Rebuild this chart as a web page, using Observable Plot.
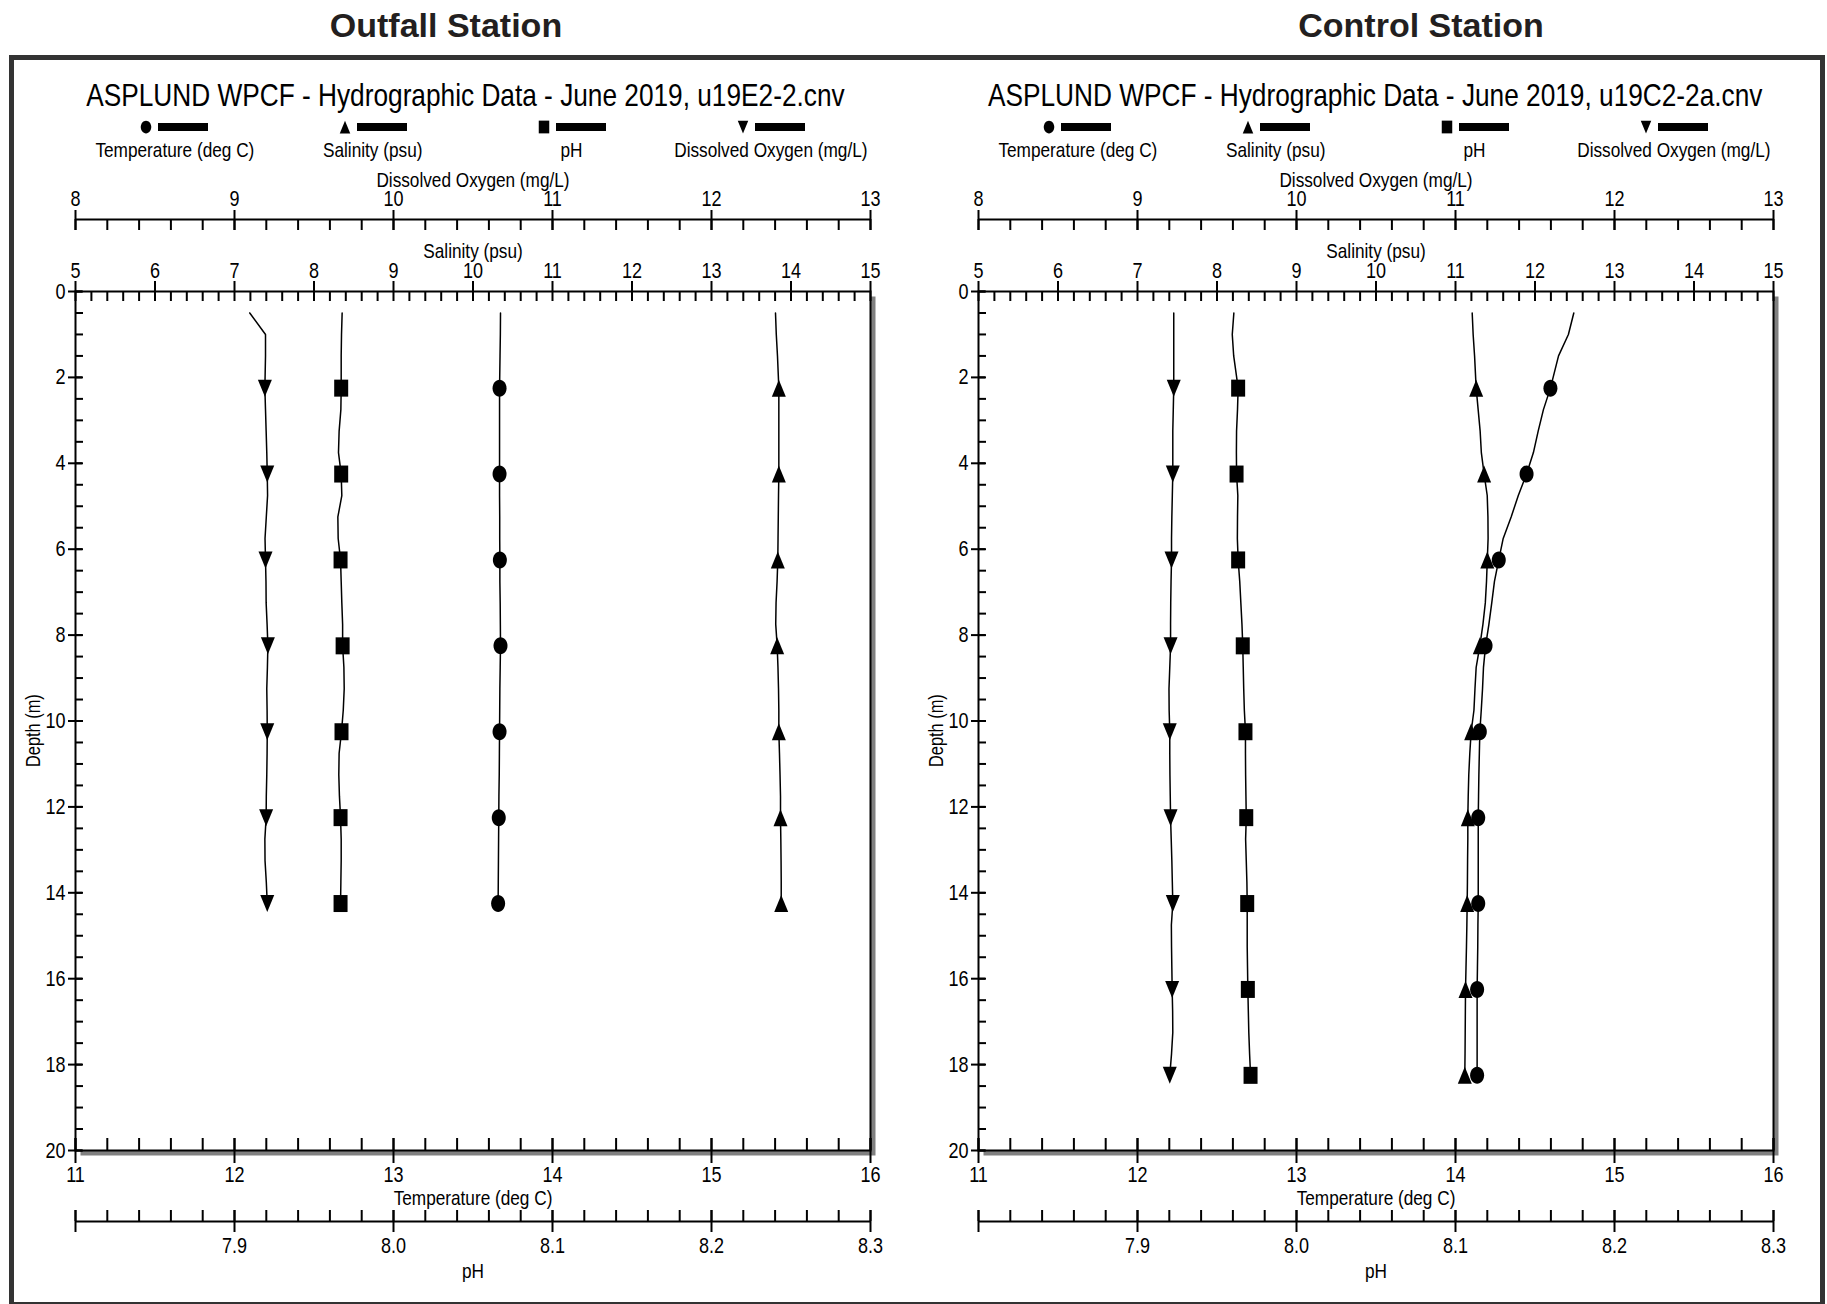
<!DOCTYPE html>
<html>
<head>
<meta charset="utf-8">
<script src="https://cdn.jsdelivr.net/npm/d3@7"></script>
<script src="https://cdn.jsdelivr.net/npm/@observablehq/plot@0.6"></script>
<style>
html, body { margin: 0; padding: 0; background: #fff; }
#page { position: relative; width: 1827px; height: 1304px; overflow: hidden; background: #fff;
  font-family: "Liberation Sans", Arial, sans-serif; color: #000; }
.station { position: absolute; top: 2px; width: 500px; text-align: center; font-family: "Liberation Sans", Arial, sans-serif;
  font-weight: bold; font-size: 34px; line-height: 46px; color: #231f20; white-space: nowrap; }
#frame { position: absolute; left: 9px; top: 55px; width: 1816px; height: 1252px; border: 5px solid #333; box-sizing: border-box; }
.panel { position: absolute; top: 0; width: 903px; height: 1304px; }
.ctitle { position: absolute; left: 0; width: 930px; top: 75px; text-align: center; font-size: 32px; line-height: 40px; white-space: nowrap; }
.narrow { display: inline-block; transform: scaleX(0.82); transform-origin: 50% 50%; white-space: nowrap; }
.legend { position: absolute; left: 75px; width: 795px; top: 119px; display: flex; }
.item { flex: 1 1 0; min-width: 0; display: flex; flex-direction: column; align-items: center; }
.item svg { display: block; flex: none; }
.item span { flex: none; margin-top: 3px; font-size: 21px; line-height: 24px; }
</style>
</head>
<body>
<div id="page">
  <div class="station" style="left:196px">Outfall Station</div>
  <div class="station" style="left:1171px">Control Station</div>
  <div id="frame"></div>
</div>
<script>
// ---------------- data ----------------
const outfallDepth = [0.5, 1.0, 1.5, 2.25, 2.75, 3.25, 3.75, 4.25, 4.75, 5.25, 5.75, 6.25, 6.75, 7.25, 7.75,
  8.25, 8.75, 9.25, 9.75, 10.25, 10.75, 11.25, 11.75, 12.25, 12.75, 13.25, 13.75, 14.25];
const outfallTemperature = [13.673, 13.672, 13.670, 13.667, 13.667, 13.667, 13.667, 13.667, 13.667, 13.668, 13.668,
  13.669, 13.669, 13.671, 13.672, 13.673, 13.671, 13.669, 13.668, 13.667, 13.666, 13.665, 13.663, 13.662, 13.661,
  13.660, 13.659, 13.658];
const outfallSalinity = [13.805, 13.815, 13.830, 13.847, 13.847, 13.847, 13.847, 13.847, 13.843, 13.840, 13.837,
  13.834, 13.825, 13.812, 13.808, 13.826, 13.836, 13.843, 13.847, 13.847, 13.855, 13.862, 13.868, 13.868, 13.872,
  13.875, 13.877, 13.877];
const outfallPH = [7.9677, 7.9673, 7.9671, 7.9671, 7.9669, 7.9658, 7.9654, 7.9671, 7.9675, 7.9650, 7.9652, 7.9667,
  7.9671, 7.9675, 7.9680, 7.9680, 7.9688, 7.9690, 7.9684, 7.9673, 7.9658, 7.9656, 7.9660, 7.9667, 7.9671, 7.9671,
  7.9669, 7.9667];
const outfallOxygen = [9.096, 9.195, 9.195, 9.191, 9.195, 9.199, 9.203, 9.206, 9.208, 9.200, 9.192, 9.195, 9.198,
  9.199, 9.205, 9.210, 9.207, 9.203, 9.205, 9.206, 9.205, 9.203, 9.200, 9.199, 9.191, 9.192, 9.200, 9.206];

const controlDepth = [0.5, 1.0, 1.5, 2.25, 2.75, 3.25, 3.75, 4.25, 4.75, 5.25, 5.75, 6.25, 6.75, 7.25, 7.75,
  8.25, 8.75, 9.25, 9.75, 10.25, 10.75, 11.25, 11.75, 12.25, 12.75, 13.25, 13.75, 14.25, 14.75, 15.25, 15.75,
  16.25, 16.75, 17.25, 17.75, 18.25];
const controlTemperature = [14.744, 14.710, 14.648, 14.597, 14.553, 14.520, 14.490, 14.447, 14.395, 14.350, 14.300,
  14.272, 14.245, 14.228, 14.210, 14.189, 14.176, 14.170, 14.162, 14.153, 14.150, 14.147, 14.145, 14.143, 14.143,
  14.143, 14.143, 14.143, 14.141, 14.140, 14.138, 14.136, 14.136, 14.136, 14.136, 14.136];
const controlSalinity = [11.210, 11.222, 11.240, 11.260, 11.285, 11.310, 11.325, 11.360, 11.399, 11.408, 11.410,
  11.400, 11.390, 11.375, 11.345, 11.306, 11.260, 11.245, 11.232, 11.197, 11.180, 11.167, 11.160, 11.155, 11.155,
  11.152, 11.150, 11.147, 11.143, 11.138, 11.132, 11.126, 11.124, 11.122, 11.120, 11.117];
const controlPH = [7.9606, 7.9596, 7.9605, 7.9633, 7.9629, 7.9623, 7.9622, 7.9623, 7.9631, 7.9629, 7.9628, 7.9633,
  7.9643, 7.9650, 7.9657, 7.9662, 7.9665, 7.9668, 7.9672, 7.9679, 7.9679, 7.9680, 7.9682, 7.9684, 7.9680, 7.9684,
  7.9688, 7.9690, 7.9690, 7.9690, 7.9692, 7.9694, 7.9697, 7.9700, 7.9705, 7.9711];
const controlOxygen = [9.228, 9.228, 9.228, 9.228, 9.225, 9.222, 9.222, 9.222, 9.219, 9.216, 9.214, 9.214, 9.211,
  9.209, 9.208, 9.208, 9.203, 9.198, 9.199, 9.203, 9.203, 9.204, 9.206, 9.208, 9.212, 9.216, 9.219, 9.222, 9.213,
  9.214, 9.216, 9.218, 9.221, 9.222, 9.214, 9.203];

const markerDepths = [2.25, 4.25, 6.25, 8.25, 10.25, 12.25, 14.25, 16.25, 18.25];

// axis domains and tick labels
const temperatureDomain = [11, 16];
const salinityDomain = [5, 15];
const phDomain = [7.8, 8.3];
const oxygenDomain = [8, 13];
const depthDomain = [0, 20];
const temperatureTicks = [11, 12, 13, 14, 15, 16];
const salinityTicks = [5, 6, 7, 8, 9, 10, 11, 12, 13, 14, 15];
const phMajorTicks = [7.8, 7.9, 8.0, 8.1, 8.2, 8.3];
const phTickLabels = [7.9, 8.0, 8.1, 8.2, 8.3];
const oxygenTicks = [8, 9, 10, 11, 12, 13];
const depthTicks = [0, 2, 4, 6, 8, 10, 12, 14, 16, 18, 20];
const temperatureMinor = d3.range(11, 16.001, 0.2);
const salinityMinor = d3.range(5, 15.001, 0.2);
const phMinor = d3.range(7.8, 8.3001, 0.02);
const oxygenMinor = d3.range(8, 13.001, 0.2);
const depthMinor = d3.range(0, 20.001, 0.5);

const chartTitles = ["ASPLUND WPCF - Hydrographic Data - June 2019, u19E2-2.cnv",
                     "ASPLUND WPCF - Hydrographic Data - June 2019, u19C2-2a.cnv"];
const legendLabels = ["Temperature (deg C)", "Salinity (psu)", "pH", "Dissolved Oxygen (mg/L)"];

// ---------------- symbols ----------------
const AX = 0.875, BY = 1.0625;
const circleSym = { draw(ctx, size) { const r = Math.sqrt(size / Math.PI), a = AX * r, b = BY * r, k = 0.5523;
  ctx.moveTo(a, 0); ctx.bezierCurveTo(a, k * b, k * a, b, 0, b); ctx.bezierCurveTo(-k * a, b, -a, k * b, -a, 0);
  ctx.bezierCurveTo(-a, -k * b, -k * a, -b, 0, -b); ctx.bezierCurveTo(k * a, -b, a, -k * b, a, 0); ctx.closePath(); } };
const triUpSym = { draw(ctx, size) { const r = Math.sqrt(size / Math.PI), a = AX * r, b = BY * r;
  ctx.moveTo(0, -b); ctx.lineTo(a, b); ctx.lineTo(-a, b); ctx.closePath(); } };
const triDownSym = { draw(ctx, size) { const r = Math.sqrt(size / Math.PI), a = AX * r, b = BY * r;
  ctx.moveTo(0, b); ctx.lineTo(a, -b); ctx.lineTo(-a, -b); ctx.closePath(); } };
const squareSym = { draw(ctx, size) { const r = Math.sqrt(size / Math.PI), a = AX * r, b = BY * r;
  ctx.moveTo(-a, -b); ctx.lineTo(a, -b); ctx.lineTo(a, b); ctx.lineTo(-a, b); ctx.closePath(); } };
const legendSymbols = [circleSym, triUpSym, squareSym, triDownSym];

// ---------------- layout ----------------
const FONT = '"Liberation Sans", Arial, sans-serif';
const NARROW_SCALE = 0.82;
const W = 903, H = 1135, ML = 75, MR = 33, MT = 131, MB = 145;
const innerW = W - ML - MR, innerH = H - MT - MB;
const PANEL_X = [0, 903], SVG_TOP = 160;

const toTemp = dom => v => temperatureDomain[0] + (v - dom[0]) / (dom[1] - dom[0]) * (temperatureDomain[1] - temperatureDomain[0]);
const xT = v => v, xS = toTemp(salinityDomain), xP = toTemp(phDomain), xO = toTemp(oxygenDomain);

// tick helper: vertical ticks spanning offsets [o1, o2] measured from plot top
const vTicks = (values, xf, o1, o2) => Plot.ruleX(values, {x: xf, insetTop: o1, insetBottom: innerH - o2, stroke: "black", strokeWidth: 2});
const label = (data, opts) => Plot.text(data, {lineAnchor: "middle", fontSize: 21, ...opts});
const tickLabel = (data, opts) => label(data, {fontSize: 22, ...opts});

function panelPlot(rows) {
  const marked = rows.filter(d => markerDepths.includes(d.depth));
  const series = [
    {f: d => xO(d.oxygen), sym: triDownSym},
    {f: d => xP(d.ph), sym: squareSym},
    {f: d => xS(d.salinity), sym: triUpSym},
    {f: d => xT(d.temperature), sym: circleSym}
  ];
  const marks = [
    Plot.frame({fill: "#808080", insetLeft: 5, insetTop: 5, insetRight: -5, insetBottom: -5}),
    Plot.frame({fill: "white"})
  ];
  for (const s of series) {
    marks.push(Plot.line(rows, {x: s.f, y: "depth", stroke: "black", strokeWidth: 1.5}));
    marks.push(Plot.dot(marked, {x: s.f, y: "depth", symbol: s.sym, r: 8, fill: "black"}));
  }
  marks.push(
    Plot.frame({stroke: "black", strokeWidth: 2}),
    // Dissolved oxygen axis (above)
    Plot.ruleY([depthDomain[0]], {y: d => d, dy: -72, stroke: "black", strokeWidth: 2}),
    vTicks(oxygenMinor, xO, -72, -61),
    vTicks(oxygenTicks, xO, -81, -61),
    tickLabel(oxygenTicks, {x: xO, text: d => String(d), frameAnchor: "top", dy: -93}),
    label(["Dissolved Oxygen (mg/L)"], {text: d => d, frameAnchor: "top", dy: -111}),
    // Salinity axis (plot top)
    vTicks(salinityMinor, xS, 0, 10),
    vTicks(salinityTicks, xS, -10, 0),
    tickLabel(salinityTicks, {x: xS, text: d => String(d), frameAnchor: "top", dy: -21}),
    label(["Salinity (psu)"], {text: d => d, frameAnchor: "top", dy: -40}),
    // Temperature axis (plot bottom)
    vTicks(temperatureMinor, xT, innerH - 12, innerH),
    vTicks(temperatureTicks, xT, innerH - 12, innerH + 13),
    tickLabel(temperatureTicks, {x: xT, text: d => String(d), frameAnchor: "bottom", dy: 24}),
    label(["Temperature (deg C)"], {text: d => d, frameAnchor: "bottom", dy: 48}),
    // pH axis (below)
    Plot.ruleY([depthDomain[1]], {y: d => d, dy: 71, stroke: "black", strokeWidth: 2}),
    vTicks(phMinor, xP, innerH + 60, innerH + 71),
    vTicks(phMajorTicks, xP, innerH + 60, innerH + 82),
    tickLabel(phTickLabels, {x: xP, text: d => d3.format(".1f")(d), frameAnchor: "bottom", dy: 95}),
    label(["pH"], {text: d => d, frameAnchor: "bottom", dy: 121}),
    // Depth axis (left)
    Plot.ruleY(depthMinor, {y: d => d, insetLeft: 0, insetRight: innerW - 8, stroke: "black", strokeWidth: 2}),
    Plot.ruleY(depthTicks, {y: d => d, insetLeft: -7, insetRight: innerW - 7, stroke: "black", strokeWidth: 2}),
    tickLabel(depthTicks, {y: d => d, text: d => String(d), frameAnchor: "left", dx: -10, textAnchor: "end"}),
    label(["Depth (m)"], {text: d => d, frameAnchor: "left", dx: -42, dy: 46, rotate: -90, fontSize: 20})
  );
  const svg = Plot.plot({
    width: W, height: H,
    marginLeft: ML, marginRight: MR, marginTop: MT, marginBottom: MB,
    x: {domain: temperatureDomain, axis: null},
    y: {domain: depthDomain, reverse: true, axis: null},
    style: {background: "transparent", fontFamily: FONT, fontSize: "21px", color: "black", overflow: "visible"},
    marks
  });
  // condensed (Arial Narrow-like) lettering: squeeze each text horizontally about its anchor
  svg.querySelectorAll("text").forEach(t => {
    const x = parseFloat(t.getAttribute("x")) || 0;
    const base = t.getAttribute("transform") || "";
    t.setAttribute("transform", `${base} translate(${x},0) scale(${NARROW_SCALE},1) translate(${-x},0)`);
  });
  return svg;
}

const stationData = [
  {depth: outfallDepth, temperature: outfallTemperature, salinity: outfallSalinity, ph: outfallPH, oxygen: outfallOxygen},
  {depth: controlDepth, temperature: controlTemperature, salinity: controlSalinity, ph: controlPH, oxygen: controlOxygen}
];

const page = document.getElementById("page");
stationData.forEach((s, p) => {
  const rows = s.depth.map((d, i) => ({depth: d, temperature: s.temperature[i], salinity: s.salinity[i], ph: s.ph[i], oxygen: s.oxygen[i]}));
  const panel = document.createElement("div");
  panel.className = "panel";
  panel.style.left = PANEL_X[p] + "px";
  const title = document.createElement("div");
  title.className = "ctitle";
  const tspan = document.createElement("span");
  tspan.className = "narrow";
  tspan.textContent = chartTitles[p];
  title.appendChild(tspan);
  panel.appendChild(title);
  const legend = document.createElement("div");
  legend.className = "legend";
  legendLabels.forEach((lab, i) => {
    const item = document.createElement("div");
    item.className = "item";
    const svg = d3.create("svg").attr("width", 68).attr("height", 16);
    svg.append("path").attr("transform", "translate(6,8)").attr("d", d3.symbol(legendSymbols[i], Math.PI * 36)()).attr("fill", "black");
    svg.append("rect").attr("x", 18).attr("y", 4).attr("width", 50).attr("height", 8).attr("fill", "black");
    item.appendChild(svg.node());
    const span = document.createElement("span");
    span.className = "narrow";
    span.textContent = lab;
    item.appendChild(span);
    legend.appendChild(item);
  });
  panel.appendChild(legend);
  const chart = panelPlot(rows);
  chart.style.position = "absolute";
  chart.style.left = "0px";
  chart.style.top = SVG_TOP + "px";
  panel.appendChild(chart);
  page.appendChild(panel);
});
</script>
</body>
</html>
